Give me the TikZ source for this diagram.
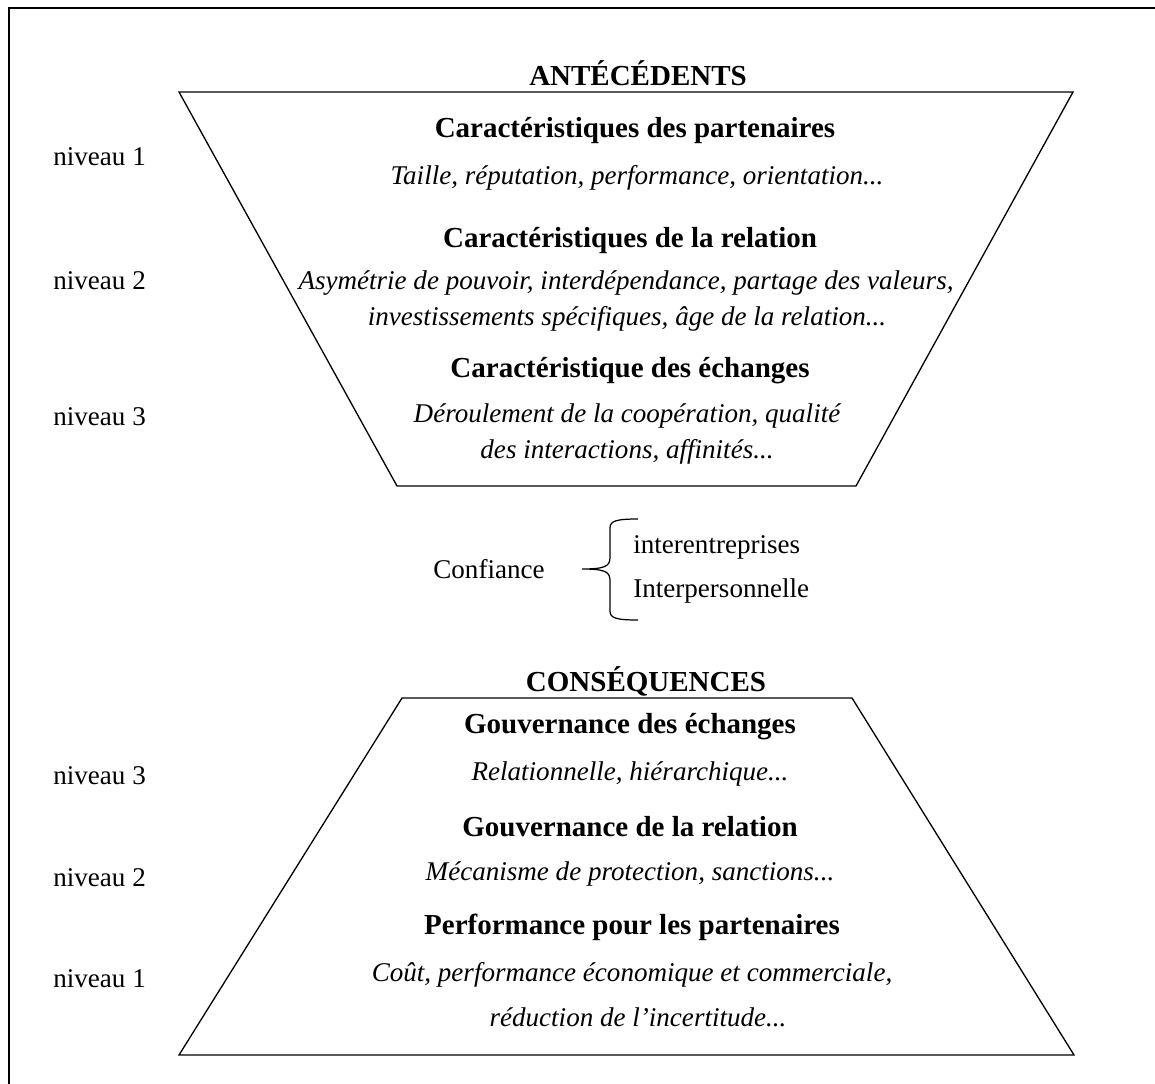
\documentclass[tikz,border=0pt]{standalone}
\usepackage{fontspec}
\setmainfont{Liberation Serif}
\begin{document}
\begin{tikzpicture}[x=0.02cm,y=-0.02cm,
  lbl/.style={font=\fontsize{15.4}{18}\selectfont, inner sep=0},
  ttl/.style={font=\fontsize{16.5}{19}\selectfont\bfseries, inner sep=0},
  itl/.style={font=\fontsize{15.4}{18}\selectfont\itshape, inner sep=0},
  trap/.style={draw, line width=0.75pt, line join=miter},
  frame/.style={draw, line width=1.2pt},
  bracestyle/.style={draw, line width=0.7pt}
]
\useasboundingbox (0,0) rectangle (1155,1084);
\path[frame] (9,1095) -- (9,8) -- (1165,8);

% top trapezoid
\coordinate (a1) at (179,92);
\coordinate (a2) at (1073,92);
\coordinate (a3) at (856,486);
\coordinate (a4) at (397,486);
\path[trap] (a1) -- (a2) -- (a3) -- (a4) -- cycle;

\node[ttl] (ant) at (638,73) {ANTÉCÉDENTS};
\node[ttl] (c1) at (635,131) {Caractéristiques des partenaires};
\node[itl] (d1) at (637,178) {Taille, réputation, performance, orientation...};
\node[ttl] (c2) at (630,241) {Caractéristiques de la relation};
\node[itl] (d2a) at (626,283) {Asymétrie de pouvoir, interdépendance, partage des valeurs,};
\node[itl] (d2b) at (627,319) {investissements spécifiques, âge de la relation...};
\node[ttl] (c3) at (630,371) {Caractéristique des échanges};
\node[itl] (d3a) at (627,416) {Déroulement de la coopération, qualité};
\node[itl] (d3b) at (627,452) {des interactions, affinités...};

\node[lbl,anchor=west] (n1) at (53,157) {niveau 1};
\node[lbl,anchor=west] (n2) at (53,281) {niveau 2};
\node[lbl,anchor=west] (n3) at (53,417) {niveau 3};

% confiance
\node[lbl] (conf) at (489,569) {Confiance};
\coordinate (tip) at (582,569);
\coordinate (btop) at (638,519);
\coordinate (bbot) at (638,620);
\path[bracestyle] (btop) .. controls (616,519) and (610,521) .. (610,528)
  -- (610,557) .. controls (610,566) and (606,569) .. (tip)
  .. controls (606,569) and (610,572) .. (610,581)
  -- (610,611) .. controls (610,618) and (616,620) .. (bbot);
\node[lbl,anchor=west] (ie) at (633,547) {interentreprises};
\node[lbl,anchor=west] (ip) at (633,591) {Interpersonnelle};

% bottom trapezoid
\coordinate (b1) at (402,698);
\coordinate (b2) at (852,698);
\coordinate (b3) at (1074,1055);
\coordinate (b4) at (179,1055);
\path[trap] (b1) -- (b2) -- (b3) -- (b4) -- cycle;

\node[ttl] (cons) at (646,681) {CONSÉQUENCES};
\node[ttl] (g1) at (630,727) {Gouvernance des échanges};
\node[itl] (h1) at (630,774) {Relationnelle, hiérarchique...};
\node[ttl] (g2) at (630,827) {Gouvernance de la relation};
\node[itl] (h2) at (630,874) {Mécanisme de protection, sanctions...};
\node[ttl] (g3) at (632,927) {Performance pour les partenaires};
\node[itl] (h3a) at (632,975) {Coût, performance économique et commerciale,};
\node[itl] (h3b) at (638,1017) {réduction de l’incertitude...};

\node[lbl,anchor=west] (m3) at (53,776) {niveau 3};
\node[lbl,anchor=west] (m2) at (53,878) {niveau 2};
\node[lbl,anchor=west] (m1) at (53,979) {niveau 1};
\end{tikzpicture}
\end{document}
